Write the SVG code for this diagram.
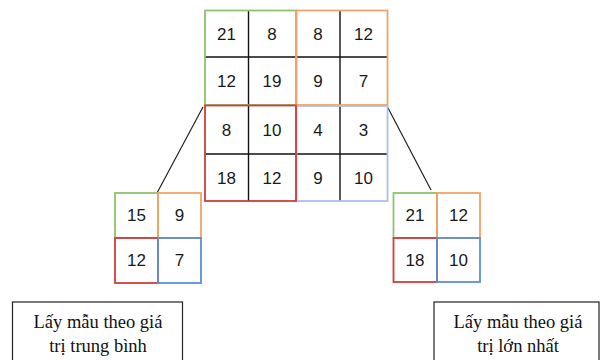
<svg xmlns="http://www.w3.org/2000/svg" width="603" height="360" viewBox="0 0 603 360">
  <style>
    .num { font-family: "Liberation Sans", Arial, sans-serif; font-size: 17px; fill: #1a1a1a; text-anchor: middle; }
    .cap { font-family: "Liberation Serif", "Times New Roman", serif; font-size: 18.5px; fill: #111; text-anchor: middle; }
    .grid { stroke: #111; stroke-width: 1.4; fill: none; }
    .g { stroke: #8ec46a; stroke-width: 1.8; fill: none; }
    .o { stroke: #f3a264; stroke-width: 1.8; fill: none; }
    .r { stroke: #d23c3c; stroke-width: 1.8; fill: none; }
    .b { stroke: #a9c1e8; stroke-width: 1.8; fill: none; }
    .b2 { stroke: #5d8ddb; stroke-width: 1.8; fill: none; }
    .link { stroke: #222; stroke-width: 1.2; fill: none; }
    .box { stroke: #222; stroke-width: 1.2; fill: #fff; }
  </style>
  <rect width="603" height="360" fill="#fff"/>

  <!-- connectors from the 4x4 input to the pooled outputs -->
  <g id="connectors">
    <line class="link" x1="203" y1="107" x2="157" y2="193"/>
    <line class="link" x1="387" y1="106" x2="431" y2="190"/>
  </g>

  <!-- 4x4 input feature map -->
  <g id="input-grid">
    <g class="grid">
      <line x1="248.5" y1="10.5" x2="248.5" y2="201"/>
      <line x1="340" y1="10.5" x2="340" y2="201"/>
      <line x1="205" y1="57" x2="387.5" y2="57"/>
      <line x1="205" y1="154" x2="387.5" y2="154"/>
    </g>
    <rect class="g" x="205" y="10.5" width="91" height="94.5"/>
    <rect class="o" x="296.5" y="10.5" width="91" height="94.5"/>
    <rect class="b" x="296.5" y="106" width="91" height="95"/>
    <rect class="r" x="205" y="105.5" width="91" height="95.5"/>
    <g class="num">
      <text x="226.5" y="39.5">21</text>
      <text x="272" y="39.5">8</text>
      <text x="318" y="39.5">8</text>
      <text x="363.5" y="39.5">12</text>
      <text x="226.5" y="87">12</text>
      <text x="272" y="87">19</text>
      <text x="318" y="87">9</text>
      <text x="363.5" y="87">7</text>
      <text x="226.5" y="135.5">8</text>
      <text x="272" y="135.5">10</text>
      <text x="318" y="135.5">4</text>
      <text x="363.5" y="135.5">3</text>
      <text x="226.5" y="183.5">18</text>
      <text x="272" y="183.5">12</text>
      <text x="318" y="183.5">9</text>
      <text x="363.5" y="183.5">10</text>
    </g>
  </g>

  <!-- 2x2 average-pooling result -->
  <g id="avg-pool">
    <rect class="g" x="115" y="193" width="43" height="45"/>
    <rect class="o" x="158" y="193" width="43" height="45"/>
    <rect class="r" x="115" y="238" width="43" height="45"/>
    <rect class="b2" x="158" y="238" width="43" height="45"/>
    <g class="num">
      <text x="136.5" y="221">15</text>
      <text x="179.5" y="221">9</text>
      <text x="136.5" y="266">12</text>
      <text x="179.5" y="266">7</text>
    </g>
  </g>

  <!-- 2x2 max-pooling result -->
  <g id="max-pool">
    <rect class="g" x="393.5" y="193" width="43.5" height="45"/>
    <rect class="o" x="437" y="193" width="43" height="45"/>
    <rect class="r" x="393.5" y="238" width="43.5" height="44"/>
    <rect class="b2" x="437" y="238" width="43" height="44"/>
    <g class="num">
      <text x="415" y="221">21</text>
      <text x="458.5" y="221">12</text>
      <text x="415" y="266">18</text>
      <text x="458.5" y="266">10</text>
    </g>
  </g>

  <!-- captions -->
  <g id="caption-avg">
    <rect class="box" x="12.5" y="302" width="170" height="62"/>
    <text class="cap" x="98" y="328">Lấy mẫu theo giá</text>
    <text class="cap" x="98" y="352">trị trung bình</text>
  </g>
  <g id="caption-max">
    <rect class="box" x="434" y="302" width="165" height="62"/>
    <text class="cap" x="518" y="328">Lấy mẫu theo giá</text>
    <text class="cap" x="518" y="352">trị lớn nhất</text>
  </g>
</svg>
